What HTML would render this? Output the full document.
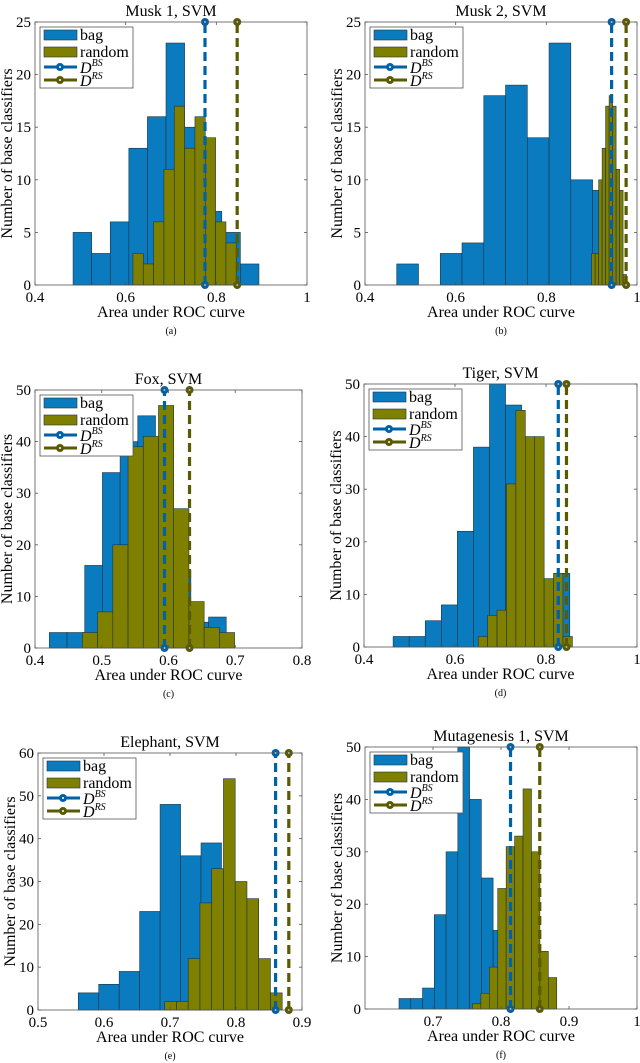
<!DOCTYPE html>
<html><head><meta charset="utf-8"><style>
body{margin:0;background:#fff;}
svg{display:block;font-family:"Liberation Serif",serif;}
</style></head><body>
<svg id="fig" width="640" height="1063" viewBox="0 0 640 1063" xmlns="http://www.w3.org/2000/svg"></svg>
<script>
// ---- data (per panel) ----
const titles = ["Musk 1, SVM","Musk 2, SVM","Fox, SVM","Tiger, SVM","Elephant, SVM","Mutagenesis 1, SVM"];
const captions = ["(a)","(b)","(c)","(d)","(e)","(f)"];
const bagStart = [0.484, 0.470, 0.4215, 0.464, 0.561, 0.650];
const bagWidth = [0.041, 0.048, 0.0265, 0.0353, 0.031, 0.0173];
const bagCounts = [
  [5,3,6,13,16,23,15,7,5,2],
  [2,0,3,4,18,19,14,23,10,9],
  [3,3,16,34,40,45,40,15,5,6],
  [2,2,5,8,22,38,50,46,35,12,14],
  [4,6,9,23,48,36,39,20,8],
  [2,2,4,18,30,50,40,25,15]
];
const rndStart = [0.616, 0.900, 0.471, 0.651, 0.692, 0.758];
const rndWidth = [0.0228, 0.0077, 0.0228, 0.0207, 0.0178, 0.0124];
const rndCounts = [
  [3,2,6,11,17,13,16,14,6,4],
  [3,3,10,13,17,18,17,11,9,1],
  [3,7,20,39,41,47,27,9,4,3],
  [2,6,7,31,45,40,40,13,14,2],
  [2,2,12,25,33,54,30,26,12,4],
  [1,3,8,23,31,33,42,30,11,6]
];
const dBS = [0.775, 0.944, 0.594, 0.827, 0.860, 0.814];
const dRS = [0.846, 0.976, 0.6315, 0.845, 0.880, 0.857];
const xMin = [0.4,0.4,0.4,0.4,0.5,0.6];
const xMax = [1,1,0.8,1,0.9,1];
const xTickVals = [[0.4,0.6,0.8,1],[0.4,0.6,0.8,1],[0.4,0.5,0.6,0.7,0.8],[0.4,0.6,0.8,1],[0.5,0.6,0.7,0.8,0.9],[0.7,0.8,0.9,1]];
const xTickLabels = [["0.4","0.6","0.8","1"],["0.4","0.6","0.8","1"],["0.4","0.5","0.6","0.7","0.8"],["0.4","0.6","0.8","1"],["0.5","0.6","0.7","0.8","0.9"],["0.7","0.8","0.9","1"]];
const yMax = [25,25,50,50,60,50];
const yStep = [5,5,10,10,10,10];

// ---- layout ----
const boxes = [
  {l:35,r:307,t:22,b:285},
  {l:365,r:637,t:22,b:285},
  {l:35,r:302,t:390,b:648},
  {l:364,r:637,t:384,b:647},
  {l:38,r:302,t:753,b:1010},
  {l:365,r:637,t:747,b:1009}
];
const BAG="#0a7bbf", RND="#808000", LBS="#0062a6", LRS="#5a5a00", EDGE="#1c3444";
const svg=document.getElementById('fig');
const NS="http://www.w3.org/2000/svg";
function mk(tag,attrs,parent){const e=document.createElementNS(NS,tag);for(const k in attrs)e.setAttribute(k,attrs[k]);(parent||svg).appendChild(e);return e;}

boxes.forEach((B,p)=>{
  const g=mk('g',{});
  
  
  const X=v=>B.l+(v-xMin[p])/(xMax[p]-xMin[p])*(B.r-B.l);
  const Y=v=>B.b-v/yMax[p]*(B.b-B.t);
  const cx=(B.l+B.r)/2;
  const title=mk('text',{x:cx,y:B.t-6,'text-anchor':'middle','font-size':16},g);title.textContent=titles[p];
  
  
  bagCounts[p].forEach((c,i)=>{if(!c)return;const x0=X(bagStart[p]+i*bagWidth[p]),x1=X(bagStart[p]+(i+1)*bagWidth[p]);
    const r=mk('rect',{x:x0,y:Y(c),width:x1-x0,height:Y(0)-Y(c),fill:BAG,stroke:EDGE,'stroke-width':0.6},g);
    
    });
  rndCounts[p].forEach((c,i)=>{if(!c)return;const x0=X(rndStart[p]+i*rndWidth[p]),x1=X(rndStart[p]+(i+1)*rndWidth[p]);
    const r=mk('rect',{x:x0,y:Y(c),width:x1-x0,height:Y(0)-Y(c),fill:RND,stroke:EDGE,'stroke-width':0.6},g);
    
    });
  [[dBS[p],LBS,'d-bs-line'],[dRS[p],LRS,'d-rs-line']].forEach(([v,col,nm])=>{
    const lg=mk('g',{},g);
    
    
    mk('line',{x1:X(v),x2:X(v),y1:Y(0),y2:Y(yMax[p]),stroke:col,'stroke-width':3.2,'stroke-dasharray':'9,5'},lg);
    [0,yMax[p]].forEach(yy=>{mk('circle',{cx:X(v),cy:Y(yy),r:4,fill:col},lg);mk('circle',{cx:X(v),cy:Y(yy),r:1,fill:'#fff'},lg);});
  });
  const ax=mk('rect',{x:B.l,y:B.t,width:B.r-B.l,height:B.b-B.t,fill:'none',stroke:'#555','stroke-width':0.8},g);
  
  
  xTickVals[p].forEach((v,i)=>{const x=X(v);
    mk('line',{x1:x,x2:x,y1:B.b,y2:B.b-3,stroke:'#555','stroke-width':0.8},g);
    mk('line',{x1:x,x2:x,y1:B.t,y2:B.t+3,stroke:'#555','stroke-width':0.8},g);
    const t=mk('text',{x:x,y:B.b+17,'text-anchor':'middle','font-size':15},g);t.textContent=xTickLabels[p][i];
    
    });
  for(let v=0;v<=yMax[p]+1e-9;v+=yStep[p]){const y=Y(v);
    mk('line',{x1:B.l,x2:B.l+3,y1:y,y2:y,stroke:'#555','stroke-width':0.8},g);
    mk('line',{x1:B.r,x2:B.r-3,y1:y,y2:y,stroke:'#555','stroke-width':0.8},g);
    const t=mk('text',{x:B.l-4,y:y+5,'text-anchor':'end','font-size':15},g);t.textContent=String(v);
    
    }
  const xl=mk('text',{x:cx,y:B.b+32,'text-anchor':'middle','font-size':16},g);xl.textContent='Area under ROC curve';
  
  
  const ylx=B.l-23,yly=(B.t+B.b)/2;
  const yl=mk('text',{x:ylx,y:yly,'text-anchor':'middle','font-size':16,transform:`rotate(-90 ${ylx} ${yly})`},g);yl.textContent='Number of base classifiers';
  
  
  const cap=mk('text',{x:cx,y:B.b+49,'text-anchor':'middle','font-size':10},g);cap.textContent=captions[p];
  
  
  const lg=mk('g',{},g);
  
  
  const lx=B.l+5,ly=B.t+5;
  mk('rect',{x:lx,y:ly,width:93,height:61,fill:'#fff',stroke:'#555','stroke-width':0.8},lg);
  mk('rect',{x:lx+4,y:ly+3,width:33,height:10,fill:BAG,stroke:EDGE,'stroke-width':0.6},lg);
  mk('rect',{x:lx+4,y:ly+20,width:33,height:10,fill:RND,stroke:EDGE,'stroke-width':0.6},lg);
  const t1=mk('text',{x:lx+40,y:ly+13,'font-size':16},lg);t1.textContent='bag';
  const t2=mk('text',{x:lx+40,y:ly+30,'font-size':16},lg);t2.textContent='random';
  [[LBS,'BS',ly+40],[LRS,'RS',ly+53]].forEach(([col,sup,yy])=>{
    mk('line',{x1:lx+4,x2:lx+37,y1:yy,y2:yy,stroke:col,'stroke-width':3},lg);
    mk('circle',{cx:lx+20,cy:yy,r:4,fill:col},lg);mk('circle',{cx:lx+20,cy:yy,r:1,fill:'#fff'},lg);
    const t=mk('text',{x:lx+40,y:yy+6,'font-size':16,'font-style':'italic'},lg);
    t.appendChild(document.createTextNode('D'));
    const ts=mk('tspan',{dy:-7,'font-size':10},t);ts.textContent=sup;
  });
});
</script>
</body></html>
